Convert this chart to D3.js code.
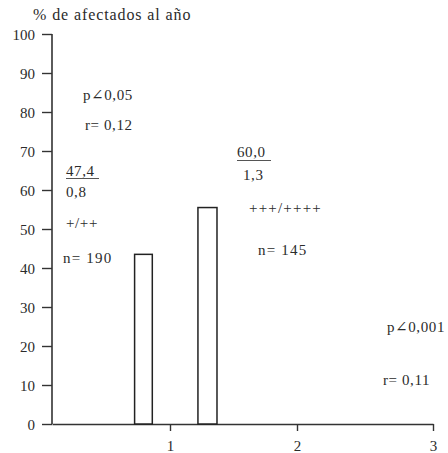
<!DOCTYPE html>
<html lang="es">
  <head>
    <meta charset="UTF-8" />
    <title>% de afectados al año</title>
    <script src="https://d3js.org/d3.v7.min.js"></script>
    <style>
      body {
        margin: 0;
        background: #fff;
      }
      svg text {
        font-family: "Liberation Serif", "DejaVu Serif", "Times New Roman", Times, serif;
        fill: #2b2b2b;
      }
    </style>
  </head>
  <body>
    <div id="chart"></div>
    <script>
      // values
      const yTicks = [0, 10, 20, 30, 40, 50, 60, 70, 80, 90, 100];
      const xTicks = [1, 2, 3];
      const barStarts = [0.7, 1.22];
      const barEnds = [0.85, 1.37];
      const barValues = [43.5, 55.5];

      const title = "% de afectados al año";
      const leftNotes = ["p∠0,05", "r= 0,12"];
      const group1 = ["47,4", "0,8", "+/++", "n= 190"];
      const group2 = ["60,0", "1,3", "+++/++++", "n= 145"];
      const rightNotes = ["p∠0,001", "r= 0,11"];

      const width = 448,
        height = 453;
      const serif = '"Liberation Serif", "DejaVu Serif", "Times New Roman", Times, serif';

      const svg = d3
        .select("#chart")
        .append("svg")
        .attr("width", width)
        .attr("height", height);

      // x axis is not evenly spaced in the original
      const x = d3.scaleLinear().domain([0, 1, 2, 3]).range([52, 170, 297, 433]);
      const y = d3.scaleLinear().domain([0, 100]).range([424, 34]);

      // y axis
      const yAxis = svg
        .append("g")
        .attr("transform", `translate(${x(0)},0)`)
        .call(d3.axisLeft(y).tickValues(yTicks).tickSize(10).tickPadding(7));

      // x axis
      const xAxis = svg
        .append("g")
        .attr("transform", `translate(0,${y(0)})`)
        .call(
          d3
            .axisBottom(x)
            .tickValues(xTicks)
            .tickFormat(d3.format("d"))
            .tickSize(7)
            .tickPadding(9)
            .tickSizeOuter(0)
        );

      [yAxis, xAxis].forEach((g) => {
        g.attr("font-family", serif);
        g.select(".domain").attr("stroke", "#333").attr("stroke-width", 1.6);
        g.selectAll(".tick line").attr("stroke", "#333").attr("stroke-width", 1.4);
        g.selectAll(".tick text").attr("font-size", 15).attr("fill", "#2b2b2b");
      });
      yAxis.select(".domain").attr("d", `M0,${y(100)}H0V${y(0)}`);
      yAxis.selectAll(".tick text").attr("dy", "0.34em");

      // bars
      svg
        .append("g")
        .selectAll("rect")
        .data(barValues)
        .join("rect")
        .attr("x", (d, i) => x(barStarts[i]))
        .attr("width", (d, i) => x(barEnds[i]) - x(barStarts[i]))
        .attr("y", (d) => y(d))
        .attr("height", (d) => y(0) - y(d))
        .attr("fill", "#fff")
        .attr("stroke", "#222")
        .attr("stroke-width", 1.5);

      // texts
      const note = (txt, px, py, size = 15, spacing = 0.6) =>
        svg
          .append("text")
          .attr("x", px)
          .attr("y", py)
          .attr("font-size", size)
          .attr("font-family", serif)
          .style("letter-spacing", spacing + "px")
          .text(txt);

      note(title, 33, 20, 16, 0.9);

      note(leftNotes[0], 83, 100);
      note(leftNotes[1], 85, 130);

      note(group1[0], 66, 176);
      svg.append("line").attr("x1", 66).attr("x2", 99).attr("y1", 178.5).attr("y2", 178.5)
        .attr("stroke", "#555").attr("stroke-width", 1);
      note(group1[1], 66, 197);
      note(group1[2], 66, 228);
      note(group1[3], 63, 263, 15, 1.2);

      note(group2[0], 237, 157);
      svg.append("line").attr("x1", 237).attr("x2", 271).attr("y1", 160.5).attr("y2", 160.5)
        .attr("stroke", "#555").attr("stroke-width", 1);
      note(group2[1], 243, 180);
      note(group2[2], 249, 213, 15, 1.2);
      note(group2[3], 258, 255, 15, 1.2);

      note(rightNotes[0], 387, 332);
      note(rightNotes[1], 383, 385);
    </script>
  </body>
</html>
